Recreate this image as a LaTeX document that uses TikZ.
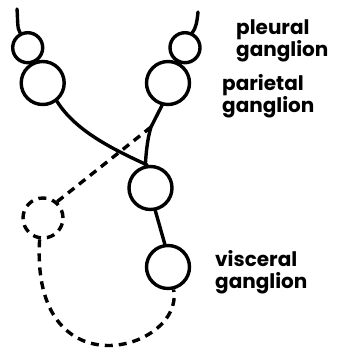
\documentclass[tikz,border=0pt]{standalone}
\usepackage{fontspec}
\setmainfont{Poppins}
\usetikzlibrary{positioning}

\begin{document}
\begin{tikzpicture}[
      x=1pt, y=-1pt,
      gang/.style={draw, circle, line width=3.4pt, inner sep=0pt},
      small/.style={gang, minimum size=30pt},
      big/.style={gang, minimum size=43pt},
      nerve/.style={line width=3.4pt, line cap=round},
      lost/.style={nerve, dash pattern=on 8pt off 6pt, line cap=butt},
      lbl/.style={anchor=west, align=left, inner sep=0pt,
                  font=\fontsize{20}{22}\selectfont\bfseries}
    ]
    \useasboundingbox (0,0) rectangle (337,350);
    % ganglia
    \node[small] (lpleu) at (27.7,47.7) {};
    \node[big]   (lpari) at (42.7,83) {};
    \node[small] (rpleu) at (185,47.7) {};
    \node[big]   (rpari) at (168,83) {};
    \node[big]   (mid)   at (150.5,188) {};
    \node[big]   (visc)  at (168,267) {};
    \node[lost, draw, circle, minimum size=40pt, inner sep=0pt] (gone) at (43,218) {};
    \coordinate (ltop) at (17,9);
    \coordinate (rtop) at (198,12);
    \coordinate (fork) at (151,127);
    % labels
    \node[lbl] (plab) at (236,41) {pleural\\ganglion};
    \node[lbl] (palab) at (222,96) {parietal\\ganglion};
    \node[lbl] (vlab) at (215,272) {visceral\\ganglion};
    % nerves
    \draw[nerve] (ltop) .. controls (18,22) and (17,28) .. (lpleu.117);
    \draw[nerve] (rtop) .. controls (197,22) and (196,28) .. (rpleu.64);
    \draw[nerve] (lpari.-52) .. controls (75,130) and (110,148) .. (mid.98);
    \draw[nerve] (rpari.-105) -- (fork) .. controls (147,140) and (146,155) .. (mid.103);
    \draw[nerve] (mid.-78) -- (visc.98);
    \draw[lost] (fork) -- (gone.49);
    \draw[lost] (gone.-99) .. controls (30,395) and (185,350) .. (visc.-76);
  \end{tikzpicture}
\end{document}
